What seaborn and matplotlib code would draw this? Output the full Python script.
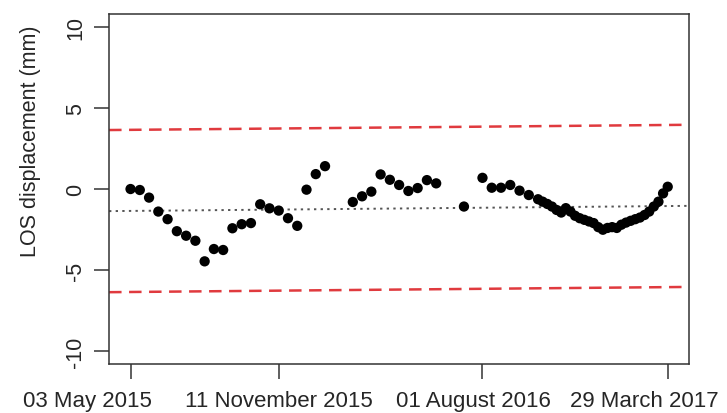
import numpy as np
import pandas as pd
import matplotlib
matplotlib.use("Agg")
import matplotlib.pyplot as plt
import matplotlib.transforms as mtrans
import seaborn as sns

# Fechas de adquisición (días desde 03 May 2015) y desplazamiento LOS (mm)
days = [0, 12, 24, 36, 48, 60, 72, 84, 96, 108, 120, 132, 144, 156, 168, 180,
        192, 204, 216, 228, 240, 252, 288, 300, 312, 324, 336, 348, 360, 372,
        384, 396, 432, 456, 468, 480, 492, 504, 516, 528,
        534, 540, 546, 552, 558, 564, 570, 576, 582, 588, 594, 600, 606, 612,
        618, 624, 630, 636, 642, 648, 654, 660, 666, 672, 678, 684, 690, 696]
los = [0.0, -0.06, -0.53, -1.39, -1.86, -2.6, -2.88, -3.19, -4.46, -3.7, -3.76,
       -2.42, -2.17, -2.1, -0.94, -1.19, -1.33, -1.8, -2.27, -0.04, 0.92, 1.41,
       -0.8, -0.45, -0.16, 0.9, 0.57, 0.25, -0.12, 0.06, 0.55, 0.35,
       -1.08, 0.69, 0.08, 0.08, 0.25, -0.1, -0.37, -0.63,
       -0.78, -0.92, -1.08, -1.29, -1.45, -1.18, -1.39, -1.65, -1.8, -1.9,
       -2.0, -2.1, -2.35, -2.51, -2.4, -2.35, -2.4, -2.2, -2.07, -1.96,
       -1.86, -1.76, -1.6, -1.39, -1.08, -0.78, -0.27, 0.14]

trend_vals = [-1.35, -1.05]   # tendencia lineal en el primer y último día
band = 5.0                    # umbral +/- alrededor de la tendencia

tick_dates = ["2015-05-03", "2015-11-11", "2016-08-01", "2017-03-29"]
tick_labels = ["03 May 2015", "11 November 2015", "01 August 2016", "29 March 2017"]
label_shift_px = [-43, 0, -9, -23]   # desplazamiento de etiquetas como en el original
y_ticks = [-10, -5, 0, 5, 10]

start = pd.Timestamp("2015-05-03")
df = pd.DataFrame({"date": start + pd.to_timedelta(days, unit="D"), "los": los})

# rango del eje x (4% extra a cada lado, como R)
d0, d1 = days[0], days[-1]
pad = (d1 - d0) * 0.04
edge_days = np.array([d0 - pad, d1 + pad])
slope = (trend_vals[1] - trend_vals[0]) / (d1 - d0)
trend = pd.DataFrame({"date": start + pd.to_timedelta(edge_days, unit="D"),
                      "mid": trend_vals[0] + slope * (edge_days - d0)})
trend["up"] = trend["mid"] + band
trend["low"] = trend["mid"] - band

sns.set_theme(style="white")
plt.rcParams["font.family"] = ["Liberation Sans", "DejaVu Sans"]

fig = plt.figure(figsize=(7.27, 4.14), dpi=100)
ax = fig.add_axes([0.150, 0.118, 0.798, 0.846])

sns.lineplot(data=trend, x="date", y="up", ax=ax, color="#e03a3e", lw=1.8,
             linestyle=(0, (5, 3)))
sns.lineplot(data=trend, x="date", y="low", ax=ax, color="#e03a3e", lw=1.8,
             linestyle=(0, (5, 3)))
sns.lineplot(data=trend, x="date", y="mid", ax=ax, color="#555555", lw=1.4,
             linestyle=(0, (1.2, 2.2)))
sns.scatterplot(data=df, x="date", y="los", ax=ax, color="black", s=55,
                edgecolor="none", zorder=3)

ax.set_xlim(trend["date"].iloc[0], trend["date"].iloc[1])
ax.set_ylim(-10.8, 10.8)

ax.set_xticks(pd.to_datetime(tick_dates))
ax.set_xticklabels([])
xtrans = mtrans.blended_transform_factory(ax.transData, ax.transAxes)
for d, lab, dx in zip(pd.to_datetime(tick_dates), tick_labels, label_shift_px):
    off = mtrans.ScaledTranslation(dx / 100, -26 / 100, fig.dpi_scale_trans)
    ax.text(d, 0, lab, transform=xtrans + off, ha="center", va="top",
            fontsize=16, color="#262626")

ax.set_yticks(y_ticks)
ax.set_yticklabels([str(v) for v in y_ticks], fontsize=15.5, rotation=90, va="center")
ax.set_xlabel("")
ax.set_ylabel("LOS displacement (mm)", fontsize=15.5)
ax.yaxis.set_label_coords(-0.117, 0.64)

ax.tick_params(axis="both", direction="out", length=10.5, width=1.1, color="#333333",
               bottom=True, left=True)
ax.tick_params(axis="y", pad=6)
for s in ax.spines.values():
    s.set_color("#333333")
    s.set_linewidth(1.1)

fig.savefig("out.png", dpi=100)
